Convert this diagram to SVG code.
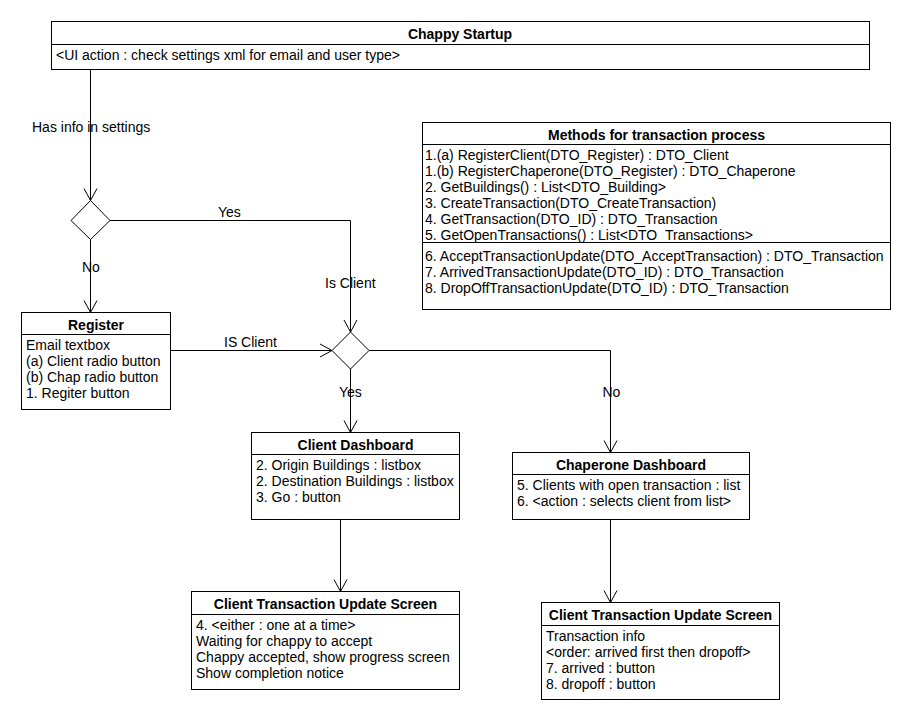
<svg xmlns="http://www.w3.org/2000/svg" width="910" height="720" viewBox="0 0 910 720">
<defs>
<marker id="arr" markerWidth="14" markerHeight="16" refX="13" refY="7.5" orient="auto" markerUnits="userSpaceOnUse">
<path d="M1,1 L13,7.5 L1,14" fill="none" stroke="#000" stroke-width="1"/>
</marker>
<style>
text{font-family:"Liberation Sans",Arial,sans-serif;font-size:14px;fill:#000}
.t{font-weight:bold;text-anchor:middle}
.box{fill:#fff;stroke:#000;stroke-width:1}
.ln{fill:none;stroke:#000;stroke-width:1}
.c{fill:none;stroke:#000;stroke-width:1}
.ca{fill:none;stroke:#000;stroke-width:1;marker-end:url(#arr)}
.dia{fill:#fff;stroke:#000;stroke-width:1}
</style>
</defs>
<rect width="910" height="720" fill="#fff"/>
<g id="connectors">
<path class="ca" d="M90.5,69.5 V200.5"/>
<path class="ca" d="M90.5,239.5 V312.5"/>
<path class="ca" d="M110,220.5 H350.5 V332"/>
<path class="ca" d="M170.5,350.5 H332"/>
<path class="ca" d="M350.5,369 V432.5"/>
<path class="ca" d="M369,350.5 H610.5 V452.5"/>
<path class="ca" d="M340.5,519.5 V591.5"/>
<path class="ca" d="M610.5,519.5 V602.5"/>
<text x="32" y="131.5">Has info in settings</text>
<text x="218" y="216.5">Yes</text>
<text x="82" y="271.5">No</text>
<text x="325" y="288">Is Client</text>
<text x="224" y="346.5">IS Client</text>
<text x="339" y="396.5">Yes</text>
<text x="602.5" y="396.5">No</text>
</g>
<g id="chappy-startup">
<rect class="box" x="51.5" y="21.5" width="818" height="48"/>
<path class="ln" d="M51.5,44.5 H869.5"/>
<text class="t" x="460" y="39">Chappy Startup</text>
<text x="56" y="59.5">&lt;UI action : check settings xml for email and user type&gt;</text>
</g>
<g id="decision-has-info">
<polygon class="dia" points="90.5,200.5 110,220.5 90.5,239.5 71,220.5"/>
</g>
<g id="decision-is-client">
<polygon class="dia" points="350.5,332 369,350.5 350.5,369 332,350.5"/>
</g>
<g id="methods">
<rect class="box" x="422.5" y="122.5" width="468" height="187"/>
<path class="ln" d="M422.5,144.5 H890.5 M422.5,242.5 H890.5"/>
<text class="t" x="656.5" y="139.5">Methods for transaction process</text>
<text x="425" y="159.5">1.(a) RegisterClient(DTO_Register) : DTO_Client</text>
<text x="425" y="175.5">1.(b) RegisterChaperone(DTO_Register) : DTO_Chaperone</text>
<text x="425" y="191.5">2. GetBuildings() : List&lt;DTO_Building&gt;</text>
<text x="425" y="207.5">3. CreateTransaction(DTO_CreateTransaction)</text>
<text x="425" y="223.5">4. GetTransaction(DTO_ID) : DTO_Transaction</text>
<text x="425" y="239.5">5. GetOpenTransactions() : List&lt;DTO_Transactions&gt;</text>
<text x="425" y="260.5">6. AcceptTransactionUpdate(DTO_AcceptTransaction) : DTO_Transaction</text>
<text x="425" y="276.5">7. ArrivedTransactionUpdate(DTO_ID) : DTO_Transaction</text>
<text x="425" y="292.5">8. DropOffTransactionUpdate(DTO_ID) : DTO_Transaction</text>
</g>
<g id="register">
<rect class="box" x="21.5" y="312.5" width="149" height="97"/>
<path class="ln" d="M21.5,334.5 H170.5"/>
<text class="t" x="96" y="329.5">Register</text>
<text x="26" y="349.5">Email textbox</text>
<text x="26" y="365.5">(a) Client radio button</text>
<text x="26" y="381.5">(b) Chap radio button</text>
<text x="26" y="397.5">1. Regiter button</text>
</g>
<g id="client-dashboard">
<rect class="box" x="251.5" y="432.5" width="208" height="87"/>
<path class="ln" d="M251.5,454.5 H459.5"/>
<text class="t" x="355.5" y="449.5">Client Dashboard</text>
<text x="256" y="469.5">2. Origin Buildings : listbox</text>
<text x="256" y="485.5">2. Destination Buildings : listbox</text>
<text x="256" y="501.5">3. Go : button</text>
</g>
<g id="chaperone-dashboard">
<rect class="box" x="512.5" y="452.5" width="237" height="67"/>
<path class="ln" d="M512.5,474.5 H749.5"/>
<text class="t" x="631" y="469.5">Chaperone Dashboard</text>
<text x="517" y="489.5">5. Clients with open transaction : list</text>
<text x="517" y="505.5">6. &lt;action : selects client from list&gt;</text>
</g>
<g id="client-transaction-left">
<rect class="box" x="191.5" y="591.5" width="268" height="98"/>
<path class="ln" d="M191.5,614.5 H459.5"/>
<text class="t" x="325.5" y="609">Client Transaction Update Screen</text>
<text x="196" y="629.5">4. &lt;either : one at a time&gt;</text>
<text x="196" y="645.5">Waiting for chappy to accept</text>
<text x="196" y="661.5">Chappy accepted, show progress screen</text>
<text x="196" y="677.5">Show completion notice</text>
</g>
<g id="client-transaction-right">
<rect class="box" x="541.5" y="602.5" width="238" height="97"/>
<path class="ln" d="M541.5,625.5 H779.5"/>
<text class="t" x="660.5" y="619.5">Client Transaction Update Screen</text>
<text x="546" y="640.5">Transaction info</text>
<text x="546" y="656.5">&lt;order: arrived first then dropoff&gt;</text>
<text x="546" y="672.5">7. arrived : button</text>
<text x="546" y="688.5">8. dropoff : button</text>
</g>
</svg>
